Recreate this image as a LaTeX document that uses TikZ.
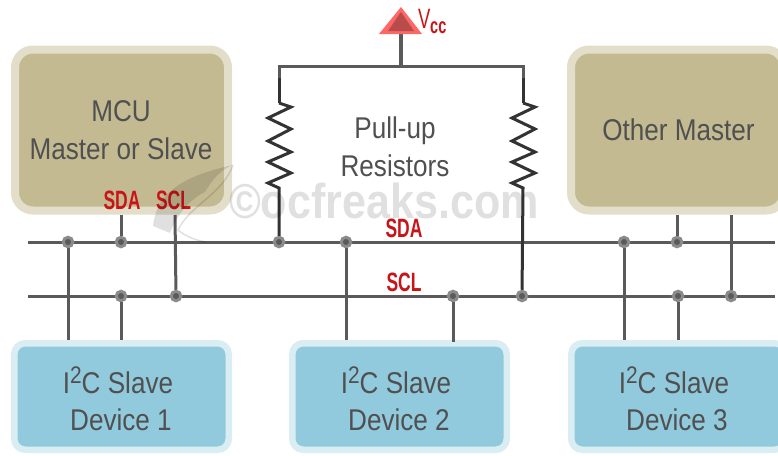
\documentclass[tikz,border=0pt]{standalone}
\usepackage{fontspec}
\setmainfont{Liberation Sans}
\newfontfamily\bodyf[FakeStretch=0.87]{Liberation Sans}
\newfontfamily\redf[FakeStretch=0.66]{Liberation Sans}
\newfontfamily\wmf[FakeStretch=0.88]{Liberation Sans}
\definecolor{tan}{HTML}{C4BA92}
\definecolor{tanl}{HTML}{E2DECA}
\definecolor{blu}{HTML}{92CADD}
\definecolor{blul}{HTML}{DAEDF3}
\definecolor{txt}{HTML}{505050}
\definecolor{wire}{HTML}{5A5A5A}
\definecolor{res}{HTML}{333333}
\definecolor{redt}{HTML}{C81418}
\newcommand{\isq}{I\raisebox{10pt}{\fontsize{24}{24}\selectfont 2}C Slave}
\tikzset{
 boxt/.style={rectangle,rounded corners=18pt,line width=8pt,draw=tanl,fill=tan,inner sep=0pt,minimum width=213pt,minimum height=161pt},
 boxb/.style={rectangle,rounded corners=11pt,line width=6.5pt,draw=blul,fill=blu,inner sep=0pt,minimum width=214.5pt,minimum height=106.5pt},
 plain/.style={text=txt,align=center,font=\bodyf\fontsize{30}{37.5}\selectfont,inner sep=0pt},
 redl/.style={text=redt,font=\redf\bfseries\fontsize{26.5}{26}\selectfont,inner sep=0pt},
 wireline/.style={draw=wire,line width=3pt},
 stem/.style={draw=res,line width=3pt},
 junction/.style={circle,fill=wire,draw=wire!70!white,line width=3pt,minimum size=9.5pt,inner sep=0pt},
 zig/.style={draw=res,line width=3pt,line join=miter}
}
\begin{document}
\begin{tikzpicture}[x=1pt,y=-1pt]
\useasboundingbox (0,0) rectangle (778,455);
\clip (0,0) rectangle (778,455);
% boxes
\node[boxt] (mcu) at (121.5,130) {};
\node[boxt] (other) at (677.5,130) {};
\node[boxb] (s1) at (121.5,396.5) {};
\node[boxb] (s2) at (399.5,396.5) {};
\node[boxb] (s3) at (678.5,396.5) {};
% named bus ends
\coordinate (sdaL) at (28,242); \coordinate (sdaR) at (775,242);
\coordinate (sclL) at (28,296); \coordinate (sclR) at (775,296);
\draw[wireline] (sdaL) -- (sdaR);
\draw[wireline] (sclL) -- (sclR);
% junctions
\node[junction] (a1) at (68,242) {};
\node[junction] (a2) at (121,242) {};
\node[junction] (a3) at (279,242) {};
\node[junction] (a4) at (346,242) {};
\node[junction] (a5) at (624,242) {};
\node[junction] (a6) at (677,242) {};
\node[junction] (b1) at (121,296) {};
\node[junction] (b2) at (176,296) {};
\node[junction] (b3) at (453,296) {};
\node[junction] (b4) at (522,296) {};
\node[junction] (b5) at (678,296) {};
\node[junction] (b6) at (731,296) {};
% drops
\coordinate (e1) at (68,340); \coordinate (e2) at (121,340);
\coordinate (e4) at (346,340); \coordinate (e3) at (453,342);
\coordinate (e5) at (624,340); \coordinate (e6) at (678,340);
\coordinate (m1) at (121,215); \coordinate (m2) at (175,215);
\coordinate (m3) at (677,215); \coordinate (m4) at (731,215);
\draw[wireline] (a1) -- (e1);
\draw[wireline] (m1) -- (a2);
\draw[wireline] (b1) -- (e2);
\draw[wireline] (m2) -- (b2);
\draw[wireline] (a4) -- (e4);
\draw[wireline] (b3) -- (e3);
\draw[wireline] (a5) -- (e5);
\draw[wireline] (m3) -- (a6);
\draw[wireline] (b5) -- (e6);
\draw[wireline] (m4) -- (b6);
% supply
\coordinate (tl) at (279,66); \coordinate (tr) at (523,66); \coordinate (tm) at (401,66);
\coordinate (vt) at (401,33);
\coordinate (r1t) at (279,103); \coordinate (r1b) at (279,188);
\coordinate (r2t) at (523,103); \coordinate (r2b) at (523,188);
\coordinate (r1s) at (279,78); \coordinate (r2s) at (523,78);
\draw[wireline,line cap=rect] (r1s) -- (tl) -- (tr) -- (r2s);
\draw[draw=wire,line width=4.5pt] (vt) -- (tm);
\draw[stem] (r1s) -- (r1t);
\draw[stem] (r2s) -- (r2t);
\draw[zig] (r1t) -- (291,107) -- (268,118) -- (291,129) -- (268,141) -- (291,152) -- (268,162) -- (291,173) -- (268,183) -- (r1b) -- (a3);
\draw[zig] (r2t) -- (535,107) -- (512,118) -- (535,129) -- (512,141) -- (535,152) -- (512,162) -- (535,173) -- (512,183) -- (r2b) -- (b4);
% Vcc arrow
\path[fill=red!60!white] (401,7) -- (422,34) -- (379,34) -- cycle;
\path[fill=red!60!black!70!white] (401,12) -- (414,31) -- (388,31) -- cycle;
\node[inner sep=0pt,anchor=base west,text=redt,font=\redf\fontsize{28}{28}\selectfont] (vcc) at (418,28) {V};
\node[inner sep=0pt,anchor=base west,text=redt,font=\redf\bfseries\fontsize{22}{22}\selectfont] (cc) at (430,33) {cc};
% labels
\node[plain] (t1) at (121,130) {MCU\\Master or Slave};
\node[plain] (t2) at (678.5,130) {Other Master};
\node[plain] (t3) at (118,399) {\isq\\\hspace*{6pt}Device 1};
\node[plain] (t4) at (396,399) {\isq\\\hspace*{6pt}Device 2};
\node[plain] (t5) at (674,399) {\isq\\\hspace*{6pt}Device 3};
\node[plain] (pull) at (395,147) {Pull-up\\Resistors};
\node[redl] (l1) at (122,200) {SDA};
\node[redl] (l2) at (173.5,200) {SCL};
\node[redl] (l3) at (404,228) {SDA};
\node[redl] (l4) at (404,282) {SCL};
% watermark
\begin{scope}[opacity=0.12]
\path[fill=black] (153,226) .. controls (156,200) and (172,178) .. (233,165) .. controls (220,170) and (212,180) .. (205,192) .. controls (192,198) and (178,212) .. (170,233) -- cycle;
\draw[black,line width=1.5pt] (233,165) .. controls (222,195) and (190,205) .. (178,230) .. controls (185,236) and (195,240) .. (205,242);
\node[inner sep=0pt,text=black,font=\wmf\bfseries\fontsize{49}{49}\selectfont] (wm) at (384,201) {©ocfreaks.com};
\end{scope}
\end{tikzpicture}
\end{document}
